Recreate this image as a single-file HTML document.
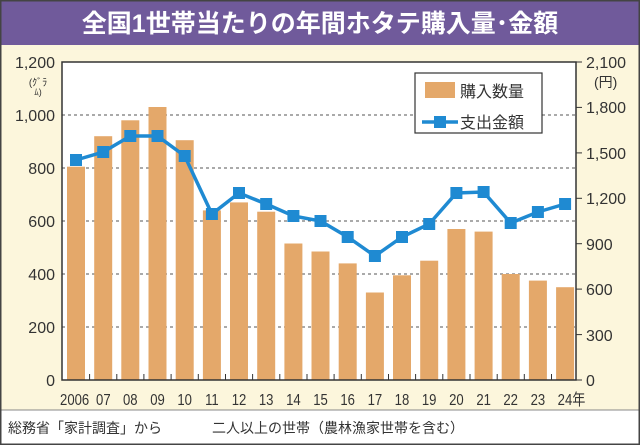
<!DOCTYPE html>
<html><head><meta charset="utf-8"><style>
body{margin:0;width:640px;height:445px;overflow:hidden;background:#fff}
svg{display:block;font-family:"Liberation Sans","Noto Sans CJK JP",sans-serif}
</style></head><body>
<svg width="640" height="445" viewBox="0 0 640 445">
<rect x="0" y="0" width="640" height="445" fill="#fcf6dc"/>
<rect x="0" y="0" width="640" height="45" fill="#705a9b"/>
<text x="320" y="32" font-size="25" font-weight="bold" fill="#fff" text-anchor="middle">全国1世帯当たりの年間ホタテ購入量･金額</text>
<rect x="62" y="62" width="514" height="318" fill="#fff"/>
<g stroke="#555" stroke-width="1" stroke-dasharray="3,3">
<line x1="62" x2="576" y1="327" y2="327"/><line x1="62" x2="576" y1="274" y2="274"/>
<line x1="62" x2="576" y1="221" y2="221"/><line x1="62" x2="576" y1="168" y2="168"/>
<line x1="62" x2="576" y1="115" y2="115"/></g>
<g fill="#e4a86a">
<rect x="67" y="166.7" width="18" height="213.3"/><rect x="94.2" y="136.2" width="18" height="243.8"/>
<rect x="121.3" y="120.3" width="18" height="259.7"/><rect x="148.5" y="107" width="18" height="273"/>
<rect x="175.7" y="140.2" width="18" height="239.8"/><rect x="202.9" y="210.4" width="18" height="169.6"/>
<rect x="230" y="202.4" width="18" height="177.6"/><rect x="257.2" y="211.7" width="18" height="168.3"/>
<rect x="284.4" y="243.5" width="18" height="136.5"/><rect x="311.5" y="251.5" width="18" height="128.5"/>
<rect x="338.7" y="263.4" width="18" height="116.6"/><rect x="365.9" y="292.5" width="18" height="87.5"/>
<rect x="393" y="275.3" width="18" height="104.7"/><rect x="420.2" y="260.7" width="18" height="119.3"/>
<rect x="447.4" y="229" width="18" height="151"/><rect x="474.6" y="231.6" width="18" height="148.4"/>
<rect x="501.7" y="274" width="18" height="106"/><rect x="528.9" y="280.6" width="18" height="99.4"/>
<rect x="556.1" y="287.2" width="18" height="92.8"/></g>
<polyline fill="none" stroke="#1f8ad2" stroke-width="3.5" points="76,160 103.2,152 130.3,136 157.5,136 184.7,156 211.9,214 239,193 266.2,204 293.4,216 320.5,221 347.7,237 374.9,256 402,237 429.2,224 456.4,193 483.6,192 510.7,223 537.9,212 565.1,204"/>
<g fill="#1f8ad2">
<rect x="70" y="154" width="12" height="12"/><rect x="97.2" y="146" width="12" height="12"/>
<rect x="124.3" y="130" width="12" height="12"/><rect x="151.5" y="130" width="12" height="12"/>
<rect x="178.7" y="150" width="12" height="12"/><rect x="205.9" y="208" width="12" height="12"/>
<rect x="233" y="187" width="12" height="12"/><rect x="260.2" y="198" width="12" height="12"/>
<rect x="287.4" y="210" width="12" height="12"/><rect x="314.5" y="215" width="12" height="12"/>
<rect x="341.7" y="231" width="12" height="12"/><rect x="368.9" y="250" width="12" height="12"/>
<rect x="396" y="231" width="12" height="12"/><rect x="423.2" y="218" width="12" height="12"/>
<rect x="450.4" y="187" width="12" height="12"/><rect x="477.6" y="186" width="12" height="12"/>
<rect x="504.7" y="217" width="12" height="12"/><rect x="531.9" y="206" width="12" height="12"/>
<rect x="559.1" y="198" width="12" height="12"/></g>
<rect x="62" y="62" width="514" height="318" fill="none" stroke="#333" stroke-width="1.5"/>
<g stroke="#333" stroke-width="1">
<line x1="89.6" x2="89.6" y1="374" y2="380"/><line x1="116.8" x2="116.8" y1="374" y2="380"/><line x1="143.9" x2="143.9" y1="374" y2="380"/><line x1="171.1" x2="171.1" y1="374" y2="380"/><line x1="198.3" x2="198.3" y1="374" y2="380"/><line x1="225.5" x2="225.5" y1="374" y2="380"/><line x1="252.6" x2="252.6" y1="374" y2="380"/><line x1="279.8" x2="279.8" y1="374" y2="380"/><line x1="307" x2="307" y1="374" y2="380"/><line x1="334.1" x2="334.1" y1="374" y2="380"/><line x1="361.3" x2="361.3" y1="374" y2="380"/><line x1="388.5" x2="388.5" y1="374" y2="380"/><line x1="415.6" x2="415.6" y1="374" y2="380"/><line x1="442.8" x2="442.8" y1="374" y2="380"/><line x1="470" x2="470" y1="374" y2="380"/><line x1="497.2" x2="497.2" y1="374" y2="380"/><line x1="524.3" x2="524.3" y1="374" y2="380"/><line x1="551.5" x2="551.5" y1="374" y2="380"/>
<line x1="576" x2="582" y1="62" y2="62"/><line x1="576" x2="582" y1="107.4" y2="107.4"/><line x1="576" x2="582" y1="152.9" y2="152.9"/><line x1="576" x2="582" y1="198.3" y2="198.3"/><line x1="576" x2="582" y1="243.7" y2="243.7"/><line x1="576" x2="582" y1="289.1" y2="289.1"/><line x1="576" x2="582" y1="334.6" y2="334.6"/><line x1="576" x2="582" y1="380" y2="380"/>
</g>
<g font-size="16" fill="#333" text-anchor="end">
<text x="55" y="386">0</text><text x="55" y="333">200</text><text x="55" y="280">400</text><text x="55" y="227">600</text><text x="55" y="174">800</text><text x="55" y="121">1,000</text><text x="55" y="68">1,200</text>
</g>
<text x="38" y="86" font-size="10" fill="#333" text-anchor="middle">(ｸﾞﾗ</text>
<text x="38" y="95" font-size="9" fill="#333" text-anchor="middle">ﾑ)</text>
<g font-size="16" fill="#333">
<text x="586" y="386">0</text><text x="586" y="341">300</text><text x="586" y="295">600</text><text x="586" y="250">900</text><text x="586" y="204">1,200</text><text x="586" y="159">1,500</text><text x="586" y="113">1,800</text><text x="586" y="68">2,100</text>
<text x="594" y="87" font-size="14">(円)</text>
</g>
<g font-size="16" fill="#333" text-anchor="middle" transform="scale(0.82,1)">
<text x="91" y="405">2006</text><text x="126" y="405">07</text><text x="158.9" y="405">08</text><text x="192.1" y="405">09</text><text x="225.2" y="405">10</text><text x="258.4" y="405">11</text><text x="291.5" y="405">12</text><text x="324.6" y="405">13</text><text x="357.8" y="405">14</text><text x="390.9" y="405">15</text><text x="424" y="405">16</text><text x="457.2" y="405">17</text><text x="490.2" y="405">18</text><text x="523.4" y="405">19</text><text x="556.6" y="405">20</text><text x="589.8" y="405">21</text><text x="622.8" y="405">22</text><text x="656" y="405">23</text><text x="697" y="405">24年</text>
</g>
<rect x="415" y="73" width="127" height="60" fill="#fff" stroke="#333" stroke-width="1.2"/>
<rect x="425" y="82" width="30" height="16" fill="#e4a86a"/>
<text x="460" y="97" font-size="16" fill="#333">購入数量</text>
<line x1="422" x2="458" y1="122" y2="122" stroke="#1f8ad2" stroke-width="3.5"/>
<rect x="434" y="116" width="12" height="12" fill="#1f8ad2"/>
<text x="460" y="128" font-size="16" fill="#333">支出金額</text>
<rect x="0" y="410" width="640" height="35" fill="#fff"/>
<line x1="0" x2="640" y1="410" y2="410" stroke="#888"/>
<text x="8" y="433" font-size="14" fill="#333">総務省「家計調査」から</text>
<text x="212" y="433" font-size="14" fill="#333">二人以上の世帯（農林漁家世帯を含む）</text>
<rect x="0.75" y="0.75" width="638.5" height="443.5" fill="none" stroke="#444" stroke-width="1.5"/>
</svg>
</body></html>
